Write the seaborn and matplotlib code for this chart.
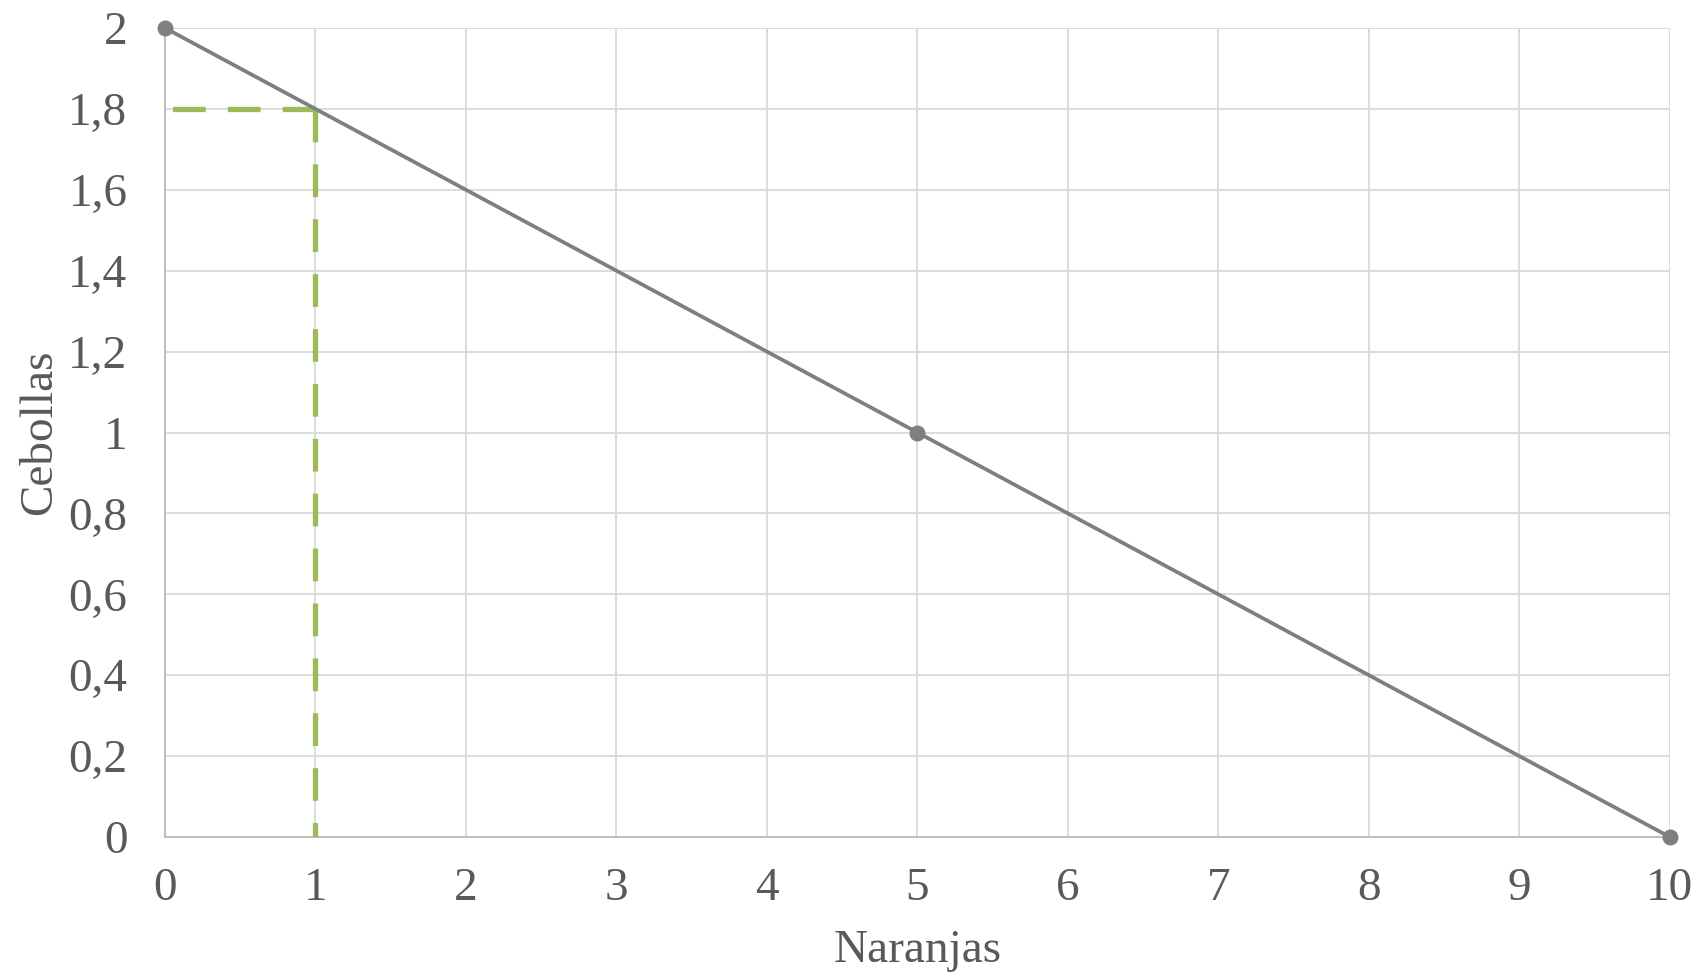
import matplotlib
matplotlib.use("Agg")
import matplotlib.pyplot as plt
import seaborn as sns
import pandas as pd
import numpy as np
from matplotlib.ticker import FuncFormatter, MultipleLocator

# Data
naranjas = [0, 5, 10]
cebollas = [2, 1, 0]
guide_x = [0, 1, 1]
guide_y = [1.8, 1.8, 0]
x_label = "Naranjas"
y_label = "Cebollas"

sns.set_style("whitegrid")
plt.rcParams['font.family'] = ['Liberation Serif', 'DejaVu Serif']

TXT = "#595959"
fig = plt.figure(figsize=(17.04, 9.75), dpi=100)
ax = fig.add_axes([0.0968, 0.1415, 0.8832, 0.8298])

df = pd.DataFrame({"Naranjas": naranjas, "Cebollas": cebollas})
sns.lineplot(data=df, x="Naranjas", y="Cebollas", ax=ax, color="#7f7f7f",
             linewidth=2.7, marker="o", markersize=11.5, markeredgewidth=0,
             zorder=4, clip_on=False)

# guide (dashed green)
ax.plot(guide_x[:2][::-1], guide_y[:2][::-1], color="#9bbb59", linewidth=3.8,
        dashes=(6.2, 4.2), zorder=3, dash_capstyle="butt")
ax.plot(guide_x[1:], guide_y[1:], color="#9bbb59", linewidth=3.8,
        dashes=(6.2, 4.2), zorder=3, dash_capstyle="butt")

ax.set_xlim(0, 10)
ax.set_ylim(0, 2)
ax.xaxis.set_major_locator(MultipleLocator(1))
ax.yaxis.set_major_locator(MultipleLocator(0.2))

def yfmt(v, p):
    s = f"{v:.1f}".rstrip("0").rstrip(".")
    return s.replace(".", ",")
ax.yaxis.set_major_formatter(FuncFormatter(yfmt))
ax.xaxis.set_major_formatter(FuncFormatter(lambda v, p: f"{int(round(v))}"))

ax.grid(True, color="#d9d9d9", linewidth=1.3)
for s in ["top", "right"]:
    ax.spines[s].set_visible(False)
for s in ["left", "bottom"]:
    ax.spines[s].set_color("#bfbfbf")
    ax.spines[s].set_linewidth(1.5)
    ax.spines[s].set_zorder(2)

ax.tick_params(axis="both", length=0, labelsize=34, colors=TXT)
ax.tick_params(axis="x", pad=22)
ax.tick_params(axis="y", pad=27)
ax.set_xlabel(x_label, fontsize=34, color=TXT, labelpad=14)
ax.set_ylabel(y_label, fontsize=34, color=TXT)
ax.yaxis.set_label_coords(-0.069, 0.5)

fig.savefig("out.png", dpi=100)
